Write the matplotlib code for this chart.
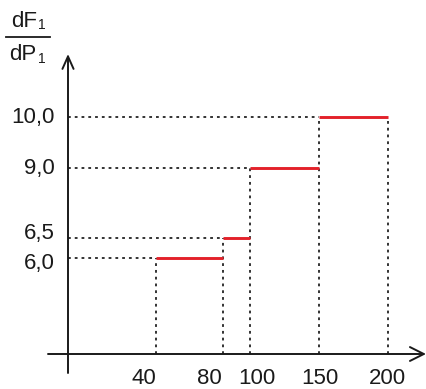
import numpy as np
import matplotlib
matplotlib.use("Agg")
import matplotlib.pyplot as plt
from matplotlib.scale import FuncScale

plt.rcParams['font.family'] = ['Liberation Sans', 'DejaVu Sans']

# ---- data ----
x_edges = [40, 80, 100, 150, 200]          # P1 breakpoints
y_levels = [6.0, 6.5, 9.0, 10.0]           # dF1/dP1 on each interval
x_tick_labels = ["40", "80", "100", "150", "200"]
y_tick_labels = ["10,0", "9,0", "6,5", "6,0"]
y_tick_values = [10.0, 9.0, 6.5, 6.0]

# ---- layout (schematic, non-linear axes) ----
W, H, DPI = 427, 389, 100
XK_D = [0, 40, 80, 100, 150, 200]
XK_P = [68, 156, 222.7, 249.7, 319.5, 388]
YK_D = [0, 6.0, 6.5, 9.0, 10.0]
YK_P = [35, 131, 151.5, 221, 272]


def piecewise(d, p):
    d = np.asarray(d, float); p = np.asarray(p, float)
    s0 = (p[1] - p[0]) / (d[1] - d[0]); s1 = (p[-1] - p[-2]) / (d[-1] - d[-2])
    D = np.concatenate([[d[0] - 1e4], d, [d[-1] + 1e4]])
    P = np.concatenate([[p[0] - 1e4 * s0], p, [p[-1] + 1e4 * s1]])
    fwd = lambda v: np.interp(v, D, P)
    inv = lambda v: np.interp(v, P, D)
    return fwd, inv


fx, ix = piecewise(XK_D, XK_P)
fy, iy = piecewise(YK_D, YK_P)

fig = plt.figure(figsize=(W / DPI, H / DPI), dpi=DPI)
ax = fig.add_axes([0, 0, 1, 1])
ax.set_xscale(FuncScale(ax, (fx, ix)))
ax.set_yscale(FuncScale(ax, (fy, iy)))
ax.set_xlim(ix(0), ix(W))
ax.set_ylim(iy(0), iy(H))
ax.axis('off')

black = '#1a1a1a'
red = '#e3222a'
dot = dict(color=black, lw=1.25, linestyle=(0, (1.6, 2.3)))

# dotted guide lines
starts = x_edges[:-1]
ends = x_edges[1:]
for x0, y in zip(starts, y_levels):
    ax.plot([0, x0], [y, y], **dot)
for i, x in enumerate(x_edges):
    ytop = y_levels[min(i, len(y_levels) - 1)]
    ax.plot([x, x], [0, ytop], **dot)

# red step segments
for x0, x1, y in zip(starts, ends, y_levels):
    ax.plot([x0, x1], [y, y], color=red, lw=2.1, solid_capstyle='butt', zorder=3)

# axes with arrows (figure pixel coordinates)
ax.annotate('', xy=(426, 35), xytext=(48, 35), xycoords='figure pixels',
            arrowprops=dict(arrowstyle='->,head_length=1.0,head_width=0.5',
                            lw=1.4, color=black, shrinkA=0, shrinkB=0))
ax.annotate('', xy=(68, H - 54), xytext=(68, H - 373), xycoords='figure pixels',
            arrowprops=dict(arrowstyle='->,head_length=0.9,head_width=0.4',
                            lw=1.4, color=black, shrinkA=0, shrinkB=0))

# tick labels
fs = 16
x_off = [-12, -13, 7, 0, -1]
for x, lab, dx in zip(x_edges, x_tick_labels, x_off):
    ax.annotate(lab, xy=(x, 0), xytext=(dx, -30), textcoords='offset pixels',
                ha='center', va='baseline', fontsize=fs, color=black)
y_off = [-6, -6, -1, -11]
for y, lab, dy in zip(y_tick_values, y_tick_labels, y_off):
    ax.annotate(lab, xy=(0, y), xytext=(-13, dy), textcoords='offset pixels',
                ha='right', va='baseline', fontsize=fs, color=black)

# y-axis label: dF1 / dP1
fig.text(11 / W, 1 - 27 / H, 'dF', fontsize=16, color=black, ha='left', va='baseline')
fig.text(38.5 / W, 1 - 29 / H, '1', fontsize=10, color=black, ha='left', va='baseline')
fig.text(9 / W, 1 - 60 / H, 'dP', fontsize=16, color=black, ha='left', va='baseline')
fig.text(38.5 / W, 1 - 63 / H, '1', fontsize=10, color=black, ha='left', va='baseline')
fig.add_artist(plt.Line2D([6 / W, 50 / W], [1 - 37 / H, 1 - 37 / H], color=black, lw=1.3,
                          transform=fig.transFigure))

fig.savefig('out.png', dpi=DPI)
